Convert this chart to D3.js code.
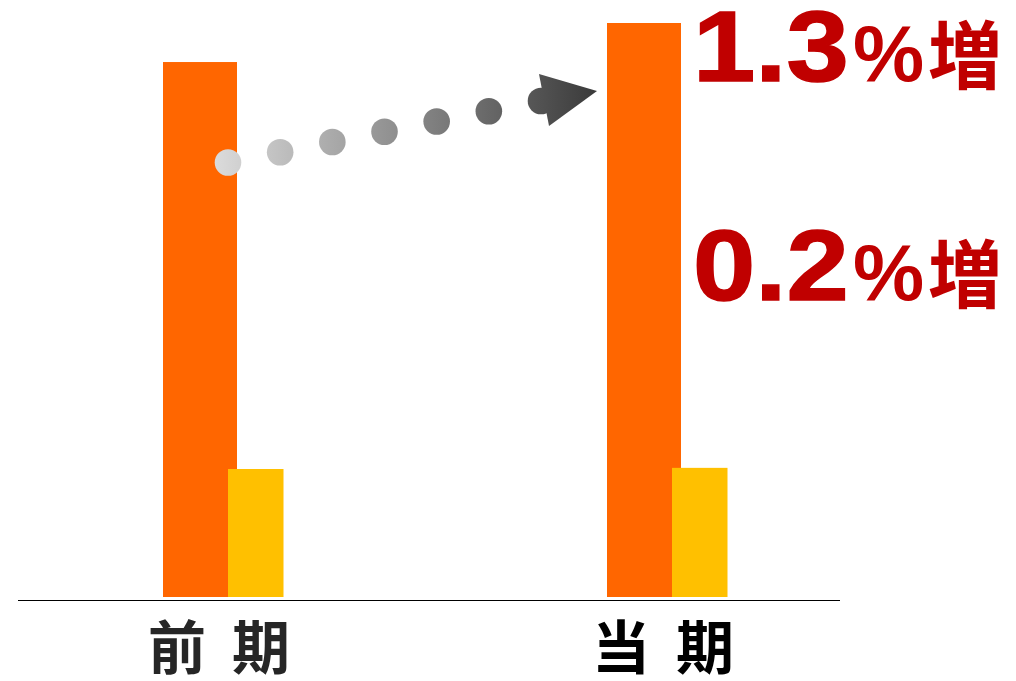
<!DOCTYPE html>
<html><head><meta charset="utf-8">
<script src="https://cdn.jsdelivr.net/npm/d3@7"></script>
<style>html,body{margin:0;padding:0;background:#fff;}svg{display:block;}</style>
</head><body>
<svg id="c" width="1016" height="681"></svg>
<script>
// ---- data ----
const categories = ["前期", "当期"];
const seriesA = [93.2, 100];   // orange
const seriesB = [22.3, 22.5];  // yellow
const growthLabels = ["1.3", "0.2"];
const growthLevel = [100, 61.8]; // annotation baselines in value units

const svg = d3.select("#c");

const x = d3.scaleBand().domain(categories).range([1, 889]).padding(0);
const y = d3.scaleLinear().domain([0, 100]).range([597, 23]);

// baseline
svg.append("line").attr("x1", 18).attr("x2", 840).attr("y1", 600.5).attr("y2", 600.5)
  .attr("stroke", "#000").attr("stroke-width", 1.2);

const cx = c => x(c) + x.bandwidth() / 2;

// orange bars
svg.selectAll("rect.a").data(categories).join("rect").attr("class", "a")
  .attr("x", c => cx(c) - 60).attr("width", 74)
  .attr("y", (c, i) => y(seriesA[i])).attr("height", (c, i) => y(0) - y(seriesA[i]))
  .attr("fill", "#FF6600");
// yellow bars
svg.selectAll("rect.b").data(categories).join("rect").attr("class", "b")
  .attr("x", c => cx(c) + 5).attr("width", 55.5)
  .attr("y", (c, i) => y(seriesB[i])).attr("height", (c, i) => y(0) - y(seriesB[i]))
  .attr("fill", "#FFC000");

// category labels
const labelColors = ["#262626", "#000"];
categories.forEach((c, i) => {
  const chars = Array.from(c);
  const t = svg.append("text").attr("y", 669)
    .attr("font-family", "'Noto Sans CJK JP', sans-serif").attr("font-weight", 700)
    .attr("font-size", 58).attr("fill", labelColors[i]).attr("text-anchor", "middle");
  chars.forEach((ch, k) => {
    t.append("tspan").attr("x", cx(c) - 4 + (k === 0 ? -42 : 42)).text(ch);
  });
});

// dotted gradient arrow
const defs = svg.append("defs");
const x0 = cx(categories[0]) + 5, x1 = cx(categories[1]) - 70;
const grad = defs.append("linearGradient").attr("id", "g").attr("gradientUnits", "userSpaceOnUse")
  .attr("x1", x0 - 15).attr("x2", x1).attr("y1", 0).attr("y2", 0);
grad.append("stop").attr("offset", 0).attr("stop-color", "#dcdcdc");
grad.append("stop").attr("offset", 1).attr("stop-color", "#3a3a3a");
const yStart = y(75.7), yEnd = y(88.15);
const nDots = 7;
const dots = d3.range(nDots).map(k => ({
  x: x0 + k * (x1 - 56 - x0) / (nDots - 1),
  y: yStart + k * (yEnd + 10 - yStart) / (nDots - 1)
}));
svg.selectAll("circle.d").data(dots).join("circle").attr("class", "d")
  .attr("cx", d => d.x).attr("cy", d => d.y).attr("r", 13.3).attr("fill", "url(#g)");
const last = dots[nDots - 1];
svg.append("path")
  .attr("d", `M${last.x - 2},${last.y - 27} L${x1},${yEnd} L${last.x + 8},${last.y + 25} Z`)
  .attr("fill", "url(#g)");

// growth annotations
const tx = cx(categories[1]) + 30;
growthLabels.forEach((g, i) => {
  const by = y(growthLevel[i]) + 58;
  svg.append("text").attr("transform", `translate(${tx - 4},${by}) scale(1.12,1)`)
    .attr("font-family", "'Liberation Sans', Arial, sans-serif").attr("font-weight", 700)
    .attr("font-size", 100).attr("fill", "#C00000")
    .attr("stroke", "#C00000").attr("stroke-width", 1.5).text(g);
  svg.append("text").attr("x", tx + 156).attr("y", by)
    .attr("font-family", "'Liberation Sans', Arial, sans-serif").attr("font-weight", 700)
    .attr("font-size", 80).attr("fill", "#C00000").text("%");
  svg.append("text").attr("x", tx + 231).attr("y", by + 2)
    .attr("font-family", "'Noto Sans CJK JP', sans-serif").attr("font-weight", 700)
    .attr("font-size", 74).attr("fill", "#C00000").text("増");
});
</script>
</body></html>
